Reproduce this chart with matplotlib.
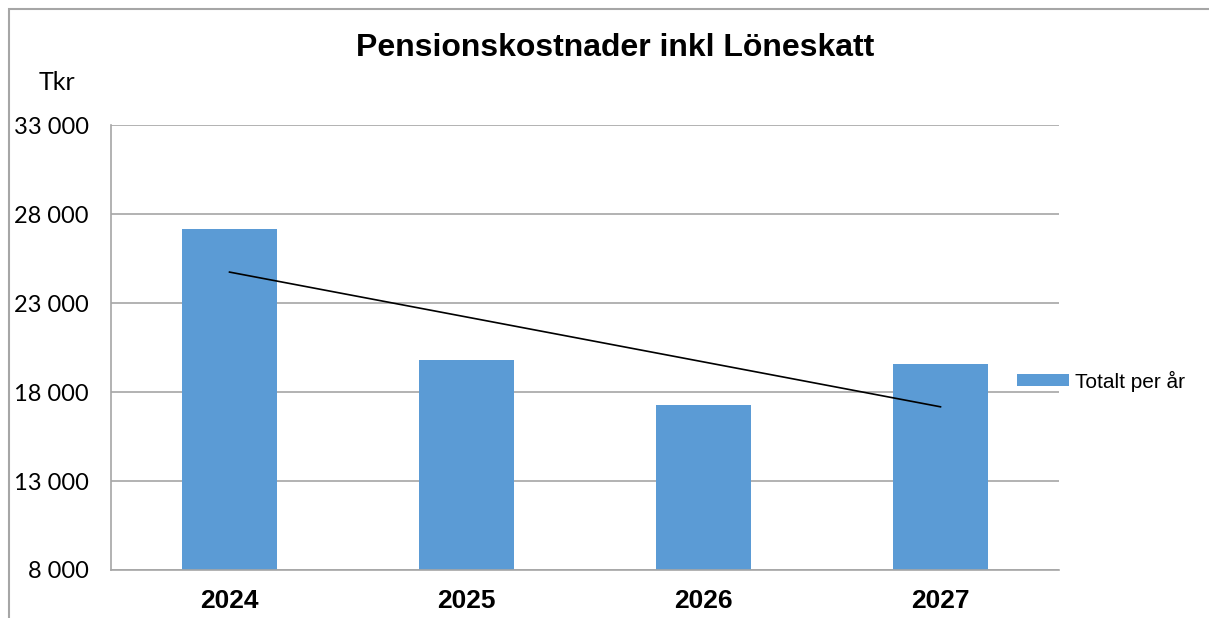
import numpy as np
import matplotlib
matplotlib.use("Agg")
from matplotlib import pyplot as plt
from matplotlib.patches import Rectangle

# data
years = ['2024', '2025', '2026', '2027']
totals = [27150, 19800, 17280, 19580]    # Tkr
yticks = [8000, 13000, 18000, 23000, 28000, 33000]
ytick_labels = ['8 000', '13 000', '18 000', '23 000', '28 000', '33 000']

W, H = 1209, 618
fig = plt.figure(figsize=(W/100, H/100), dpi=100)
ax = fig.add_axes([111/W, 1-570/H, (1059-111)/W, (570-125)/H])

x = np.arange(len(years))
ax.bar(x, totals, width=0.4, color='#5B9BD5', zorder=2, label='Totalt per år')

#linear trendline like the spreadsheet one
k, m = np.polyfit(x, totals, 1)
ax.plot(x[[0, -1]], k*x[[0, -1]] + m, color='black', lw=1.2, zorder=3)

ax.set_xlim(-0.5, 3.5)
ax.set_ylim(8000, 33000)
ax.set_yticks(yticks)
ax.set_yticklabels(ytick_labels, fontfamily='Lato', fontsize=17)
ax.set_xticks(x)
ax.set_xticklabels(years, fontfamily='Liberation Sans', fontweight='bold', fontsize=19)
ax.tick_params(axis='y', length=0, pad=16)
ax.tick_params(axis='x', length=0, pad=14)
ax.yaxis.grid(True, color='#a6a6a6', lw=1.2, zorder=0)
for s in ['top', 'right']:
    ax.spines[s].set_visible(False)
ax.spines['left'].set_color('#a6a6a6')
ax.spines['bottom'].set_color('#a6a6a6')
ax.spines['left'].set_linewidth(1.2)
ax.spines['bottom'].set_linewidth(1.2)

leg = ax.legend(loc='center left', bbox_to_anchor=(1017/W, 1-381/H), bbox_transform=fig.transFigure,
                frameon=False, prop={'family': 'Liberation Sans', 'size': 15},
                handlelength=2.5, handleheight=0.55, handletextpad=0.3, borderpad=0, borderaxespad=0)

fig.text(615/W, 1-48/H, 'Pensionskostnader inkl Löneskatt', ha='center', va='center',
         fontfamily='Liberation Sans', fontweight='bold', fontsize=23)
fig.text(57/W, 1-82/H, 'Tkr', ha='center', va='center', fontfamily='Lato', fontsize=18)

# outer chart frame
fig.patches.append(Rectangle((9/W, -0.1), 1.2, 1.1 - 9/H, transform=fig.transFigure,
                             fill=False, edgecolor='#a6a6a6', lw=1.5))

fig.savefig('out.png', dpi=100)
